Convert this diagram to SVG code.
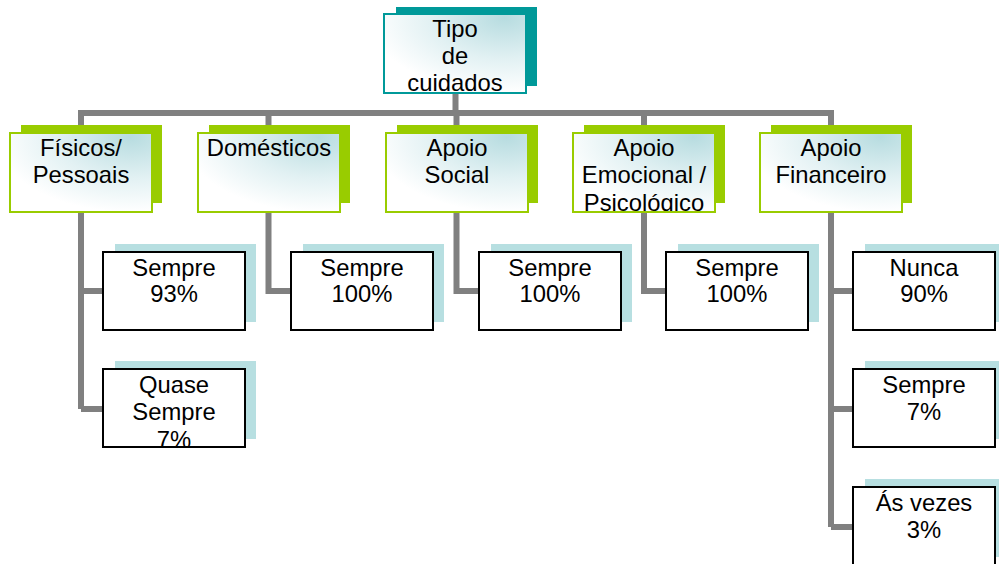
<svg xmlns="http://www.w3.org/2000/svg" width="999" height="564" viewBox="0 0 999 564">
<defs>
<radialGradient id="g1" cx="0.85" cy="0.05" r="0.95" fx="0.85" fy="0.05">
<stop offset="0" stop-color="#b7dce0"/>
<stop offset="0.55" stop-color="#e2f1f3"/>
<stop offset="1" stop-color="#ffffff"/>
</radialGradient>
<clipPath id="cTop"><rect x="384" y="14" width="142" height="79"/></clipPath>
<clipPath id="cL1a"><rect x="10" y="133" width="142" height="79"/></clipPath>
<clipPath id="cL1d"><rect x="573" y="133" width="142" height="78"/></clipPath>
<clipPath id="cQ"><rect x="103" y="369" width="142" height="77"/></clipPath>
<clipPath id="cA"><rect x="853" y="487" width="142" height="78"/></clipPath>
</defs>
<style>
text{font-family:"Liberation Sans",Arial,sans-serif;font-size:23.8px;fill:#000;text-anchor:middle}
.conn{stroke:#808080;stroke-width:6;fill:none}
.tsh{fill:#009999}
.tfr{fill:url(#g1);stroke:#009999;stroke-width:2}
.gsh{fill:#99cc00}
.gfr{fill:url(#g1);stroke:#99cc00;stroke-width:2}
.csh{fill:#b7dfe1}
.cfr{fill:#ffffff;stroke:#000;stroke-width:2}
</style>
<g id="connectors">
<path class="conn" d="M455.5 93 V113 M78 113 H834"/>
<path class="conn" d="M81 113 V409 M81 291 H103 M81 409 H103"/>
<path class="conn" d="M268.5 113 V291 H291"/>
<path class="conn" d="M456.5 113 V291 H479"/>
<path class="conn" d="M644 113 V291 H666"/>
<path class="conn" d="M831 113 V527 M831 291 H853 M831 409 H853 M831 527 H853"/>
</g>
<g id="root">
<rect class="tsh" x="396" y="7" width="141" height="79"/>
<rect class="tfr" x="384" y="14" width="142" height="79"/>
<g clip-path="url(#cTop)"><text x="455" y="37">Tipo</text><text x="455" y="64">de</text><text x="455" y="91">cuidados</text></g>
</g>
<g id="fisicos">
<rect class="gsh" x="21" y="125" width="141" height="78"/>
<rect class="gfr" x="10" y="133" width="142" height="79"/>
<g clip-path="url(#cL1a)"><text x="81" y="156">Físicos/</text><text x="81" y="183">Pessoais</text></g>
</g>
<g id="domesticos">
<rect class="gsh" x="209" y="125" width="141" height="78"/>
<rect class="gfr" x="198" y="133" width="142" height="79"/>
<text x="269" y="156">Domésticos</text>
</g>
<g id="social">
<rect class="gsh" x="397" y="125" width="141" height="78"/>
<rect class="gfr" x="386" y="133" width="142" height="79"/>
<text x="457" y="156">Apoio</text><text x="457" y="183">Social</text>
</g>
<g id="emocional">
<rect class="gsh" x="584" y="125" width="141" height="78"/>
<rect class="gfr" x="573" y="133" width="142" height="79"/>
<g clip-path="url(#cL1d)"><text x="644" y="156">Apoio</text><text x="644" y="183">Emocional /</text><text x="644" y="211">Psicológico</text></g>
</g>
<g id="financeiro">
<rect class="gsh" x="771" y="125" width="141" height="78"/>
<rect class="gfr" x="760" y="133" width="142" height="79"/>
<text x="831" y="156">Apoio</text><text x="831" y="183">Financeiro</text>
</g>
<g id="fis-sempre">
<rect class="csh" x="115" y="244" width="141" height="78"/>
<rect class="cfr" x="103" y="252" width="142" height="78"/>
<text x="174" y="276">Sempre</text><text x="174" y="302">93%</text>
</g>
<g id="fis-quase">
<rect class="csh" x="115" y="361" width="141" height="78"/>
<rect class="cfr" x="103" y="369" width="142" height="78"/>
<g clip-path="url(#cQ)"><text x="174" y="393">Quase</text><text x="174" y="420">Sempre</text><text x="174" y="448">7%</text></g>
</g>
<g id="dom-sempre">
<rect class="csh" x="303" y="244" width="141" height="78"/>
<rect class="cfr" x="291" y="252" width="142" height="78"/>
<text x="362" y="276">Sempre</text><text x="362" y="302">100%</text>
</g>
<g id="soc-sempre">
<rect class="csh" x="491" y="244" width="141" height="78"/>
<rect class="cfr" x="479" y="252" width="142" height="78"/>
<text x="550" y="276">Sempre</text><text x="550" y="302">100%</text>
</g>
<g id="emo-sempre">
<rect class="csh" x="678" y="244" width="141" height="78"/>
<rect class="cfr" x="666" y="252" width="142" height="78"/>
<text x="737" y="276">Sempre</text><text x="737" y="302">100%</text>
</g>
<g id="fin-nunca">
<rect class="csh" x="865" y="244" width="141" height="78"/>
<rect class="cfr" x="853" y="252" width="142" height="78"/>
<text x="924" y="276">Nunca</text><text x="924" y="302">90%</text>
</g>
<g id="fin-sempre">
<rect class="csh" x="865" y="361" width="141" height="78"/>
<rect class="cfr" x="853" y="369" width="142" height="78"/>
<text x="924" y="393">Sempre</text><text x="924" y="420">7%</text>
</g>
<g id="fin-asvezes">
<rect class="csh" x="865" y="479" width="141" height="78"/>
<rect class="cfr" x="853" y="487" width="142" height="78"/>
<g clip-path="url(#cA)"><text x="924" y="511">Ás vezes</text><text x="924" y="538">3%</text></g>
</g>
</svg>
